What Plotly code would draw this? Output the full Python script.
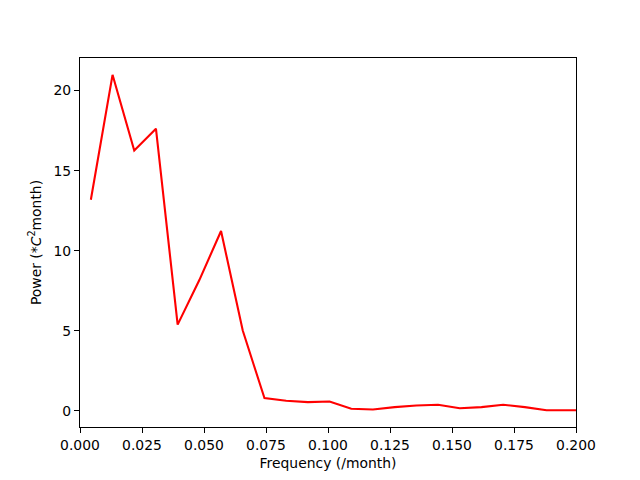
import plotly.graph_objects as go

freq = [0.004375, 0.013125, 0.021875, 0.030625, 0.039375, 0.048125, 0.056875,
        0.065625, 0.074375, 0.083125, 0.091875, 0.100625, 0.109375, 0.118125,
        0.126875, 0.135625, 0.144375, 0.153125, 0.161875, 0.170625, 0.179375,
        0.188125, 0.196875, 0.205625]
power = [13.18, 20.98, 16.25, 17.62, 5.39, 8.17, 11.23,
         5.02, 0.80, 0.64, 0.55, 0.59, 0.14, 0.09,
         0.24, 0.34, 0.39, 0.17, 0.24, 0.39, 0.24,
         0.05, 0.05, 0.05]

xticks = [0.0, 0.025, 0.05, 0.075, 0.1, 0.125, 0.15, 0.175, 0.2]
yticks = [0, 5, 10, 15, 20]

fig = go.Figure()
fig.add_trace(go.Scatter(x=freq, y=power, mode="lines",
                         line=dict(color="red", width=2.1), showlegend=False))

font = dict(family="DejaVu Sans", size=13.9, color="black")
axis_common = dict(showgrid=False, zeroline=False, showline=True, mirror=True,
                   linecolor="black", linewidth=1.1, ticks="outside",
                   ticklen=5, tickwidth=1.1, tickcolor="black", tickfont=font,
                   automargin=False)

# page body has an 8px default margin, so the figure is offset by 8px
fig.update_layout(
    width=624, height=464,
    margin=dict(l=72, r=56, t=50, b=45),
    paper_bgcolor="white", plot_bgcolor="white",
    font=font,
    xaxis=dict(range=[0, 0.2], tickvals=xticks, tickformat=".3f",
               title=dict(text="Frequency (/month)", font=font, standoff=6),
               **axis_common),
    yaxis=dict(range=[-1.0, 22.03], tickvals=yticks,
               title=dict(text="Power (*<i>C</i><sup>2</sup>month)", font=font, standoff=8),
               **axis_common),
)

fig.write_html("out.html")
